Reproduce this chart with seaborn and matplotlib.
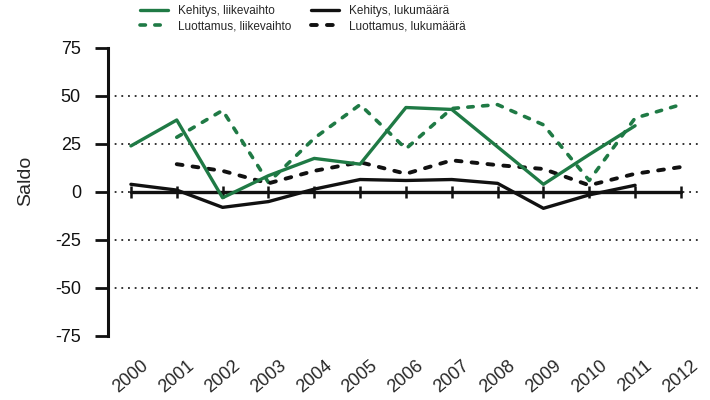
import matplotlib
matplotlib.use("Agg")
import matplotlib.pyplot as plt
import seaborn as sns
import numpy as np

# ---- data ----
years_all = list(range(2000, 2013))
year_labels = [str(y) for y in years_all]

years_keh = list(range(2000, 2012))
years_luo = list(range(2001, 2013))

kehitys_liikevaihto = [24, 37.5, -3, 8.5, 17.5, 14.5, 44, 43, 23.5, 4, 19.5, 34.5]
luottamus_liikevaihto = [28.5, 42.5, 5, 28, 45.5, 22.5, 43.5, 45.5, 35, 6, 38.5, 45.5]
kehitys_lukumaara = [4, 1, -8, -5, 1.5, 6.5, 6, 6.5, 4.5, -8.5, -1.5, 3.5]
luottamus_lukumaara = [14.5, 11, 4.5, 11, 15.5, 9.5, 16.5, 14, 12, 3.5, 9.5, 13]
zero_line = [0] * len(years_all)

labels = ["Kehitys, liikevaihto", "Luottamus, liikevaihto",
          "Kehitys, lukumäärä", "Luottamus, lukumäärä"]
yticks = [-75, -50, -25, 0, 25, 50, 75]
gridvals = [-50, -25, 0, 25, 50]

GREEN = "#1f7a45"
BLACK = "#111111"

sns.set_style("white")
plt.rcParams["font.family"] = ["Liberation Sans", "DejaVu Sans"]

fig = plt.figure(figsize=(7.1, 4.0), dpi=100)
ax = fig.add_axes([108 / 710, 1 - 336 / 400, (702 - 108) / 710, (336 - 48) / 400])

# dotted gridlines
for g in gridvals:
    ax.axhline(g, color="#222222", lw=1.3, linestyle=(0, (1, 2.7)), zorder=1)

# zero line with year tick marks
sns.lineplot(x=years_all, y=zero_line, ax=ax, color=BLACK, lw=2.4,
             marker="|", markersize=9, markeredgewidth=1.8,
             markeredgecolor=BLACK, markerfacecolor=BLACK, zorder=2)

dash = (0, (1.5, 2.6))
sns.lineplot(x=years_keh, y=kehitys_liikevaihto, ax=ax, color=GREEN, lw=2.4,
             label=labels[0], zorder=4)
sns.lineplot(x=years_luo, y=luottamus_liikevaihto, ax=ax, color=GREEN, lw=2.6,
             linestyle=dash, dash_capstyle="round", label=labels[1], zorder=3)
sns.lineplot(x=years_keh, y=kehitys_lukumaara, ax=ax, color=BLACK, lw=2.4,
             label=labels[2], zorder=4)
sns.lineplot(x=years_luo, y=luottamus_lukumaara, ax=ax, color=BLACK, lw=2.8,
             linestyle=dash, dash_capstyle="round", label=labels[3], zorder=3)

ax.set_xlim(1999.5, 2012.46)
ax.set_ylim(-75, 75)
ax.set_yticks(yticks)
ax.set_yticklabels([str(v) for v in yticks], fontsize=13)
ax.set_xticks(years_all)
ax.set_xticklabels(year_labels, fontsize=13, rotation=40, ha="center",
                   rotation_mode="default")
ax.tick_params(axis="x", length=0, pad=15)
ax.tick_params(axis="y", direction="out", length=9.5, width=2.0, pad=10,
               left=True, colors=BLACK)
for t in ax.get_xticklabels():
    t.set_x(t.get_position()[0])

for s in ["top", "right", "bottom"]:
    ax.spines[s].set_visible(False)
ax.spines["left"].set_linewidth(2.2)
ax.spines["left"].set_color(BLACK)

ax.set_ylabel("Saldo", fontsize=14)
ax.yaxis.set_label_coords(-0.125, 0.54)

handles, labs = ax.get_legend_handles_labels()
ax.get_legend().remove()
leg = fig.legend(handles, labs, ncol=2, loc="upper left",
                 bbox_to_anchor=(140 / 710, 1 - 5 / 400), frameon=False,
                 fontsize=8.5, handlelength=2.4, handletextpad=0.85,
                 columnspacing=1.6, labelspacing=0.3, borderpad=0,
                 borderaxespad=0)

fig.savefig("out.png", dpi=100)
